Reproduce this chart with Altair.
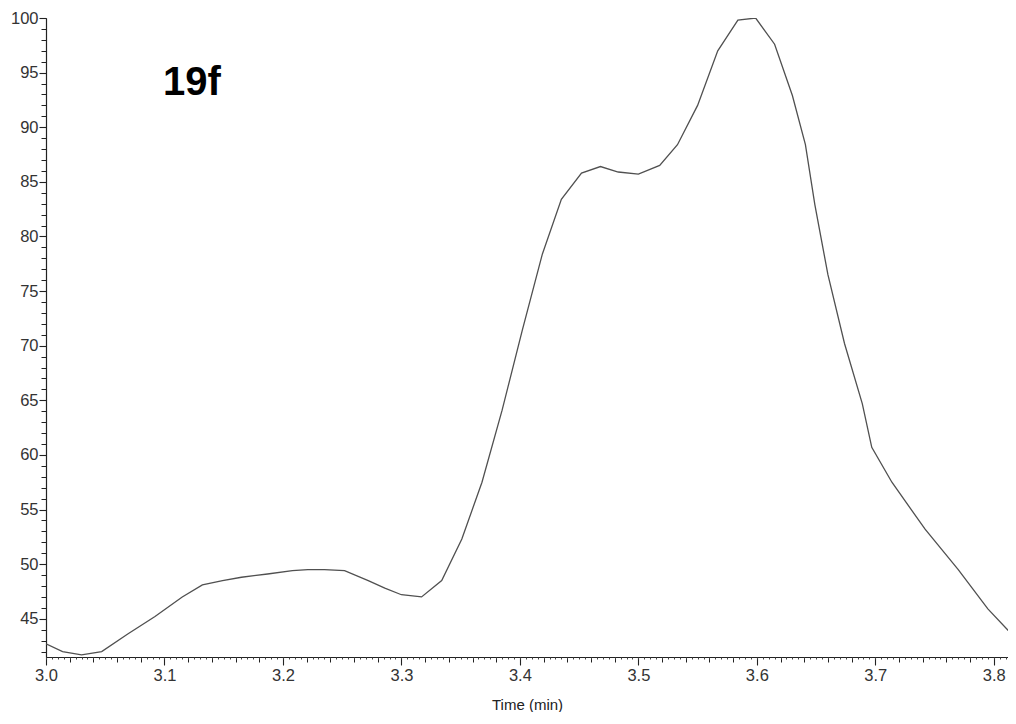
import altair as alt
import pandas as pd

# Chromatogram trace (time in min, relative intensity %)
time_min = [3.000, 3.014, 3.030, 3.047, 3.069, 3.092, 3.115, 3.132, 3.149, 3.165,
            3.187, 3.208, 3.221, 3.235, 3.252, 3.272, 3.286, 3.300, 3.317, 3.334,
            3.351, 3.368, 3.385, 3.402, 3.419, 3.435, 3.452, 3.468, 3.483, 3.500,
            3.518, 3.533, 3.550, 3.567, 3.584, 3.599, 3.615, 3.630, 3.641, 3.649,
            3.660, 3.674, 3.689, 3.697, 3.714, 3.742, 3.770, 3.795, 3.815, 3.823]
intensity = [42.7, 42.0, 41.7, 42.0, 43.6, 45.2, 47.0, 48.1, 48.5, 48.8,
             49.1, 49.4, 49.5, 49.5, 49.4, 48.5, 47.8, 47.2, 47.0, 48.5,
             52.3, 57.5, 64.1, 71.4, 78.4, 83.4, 85.8, 86.4, 85.9, 85.7,
             86.5, 88.4, 92.0, 97.0, 99.8, 100.0, 97.6, 92.9, 88.4, 82.9,
             76.5, 70.2, 64.7, 60.7, 57.5, 53.2, 49.5, 45.9, 43.6, 43.5]

x_major = [3.0, 3.1, 3.2, 3.3, 3.4, 3.5, 3.6, 3.7, 3.8]
x_minor = [round(3.0 + 0.02 * i, 3) for i in range(41)]
x_tiny = [round(3.0 + 0.005 * i, 3) for i in range(164)]
y_major = [45, 50, 55, 60, 65, 70, 75, 80, 85, 90, 95, 100]
y_minor = list(range(42, 101))
label_text = ["19f"]

X_DOMAIN = [3.0, 3.812]
Y_DOMAIN = [41.5, 100]

df = pd.DataFrame({"t": time_min, "v": intensity})

FONT = "Liberation Sans"
AX = dict(domainColor="#222", tickColor="#222", labelColor="#333",
          labelFont=FONT, labelFontSize=16.5, grid=False, labelFlush=False,
          domainWidth=1.2, tickWidth=1.1)

xs = alt.Scale(domain=X_DOMAIN, nice=False, zero=False)
ys = alt.Scale(domain=Y_DOMAIN, nice=False, zero=False)

main = alt.Chart(df).mark_line(color="#505050", strokeWidth=1.3, clip=True).encode(
    x=alt.X("t:Q", scale=xs,
            axis=alt.Axis(values=x_major, format=".1f", tickSize=8, labelPadding=2,
                          orient="bottom", title="Time (min)", titleFont=FONT,
                          titleFontSize=15, titleFontWeight="normal", titleColor="#222",
                          titlePadding=14, **AX)),
    y=alt.Y("v:Q", scale=ys,
            axis=alt.Axis(values=y_major, format="d", tickSize=7, labelPadding=1,
                          orient="left", title=None, **AX)),
)

minor = alt.Chart(df).mark_line(strokeOpacity=0).encode(
    x=alt.X("t:Q", scale=xs,
            axis=alt.Axis(values=x_minor, labels=False, tickSize=5, orient="bottom",
                          title=None, domain=False, grid=False, tickColor="#222")),
    y=alt.Y("v:Q", scale=ys,
            axis=alt.Axis(values=y_minor, labels=False, tickSize=5, orient="left",
                          title=None, domain=False, grid=False, tickColor="#222")),
)

tiny = alt.Chart(df).mark_line(strokeOpacity=0).encode(
    x=alt.X("t:Q", scale=xs,
            axis=alt.Axis(values=x_tiny, labels=False, tickSize=2, orient="bottom",
                          title=None, domain=False, grid=False, tickColor="#444")),
    y=alt.Y("v:Q", scale=ys, axis=None),
)

label = alt.Chart(pd.DataFrame({"s": label_text})).mark_text(
    font=FONT, fontSize=40, fontWeight="bold", color="#000",
    align="left", baseline="alphabetic"
).encode(x=alt.value(117), y=alt.value(77), text="s:N")

chart = alt.layer(main, minor, tiny, label).resolve_axis(
    x="independent", y="independent"
).properties(
    width=962, height=639,
    background="white",
    autosize=alt.AutoSizeParams(type="none"),
    padding={"left": 38, "top": 10, "right": 0, "bottom": 55},
).configure_view(stroke=None)

chart.save("out.html", embed_options={"renderer": "svg", "actions": False})
